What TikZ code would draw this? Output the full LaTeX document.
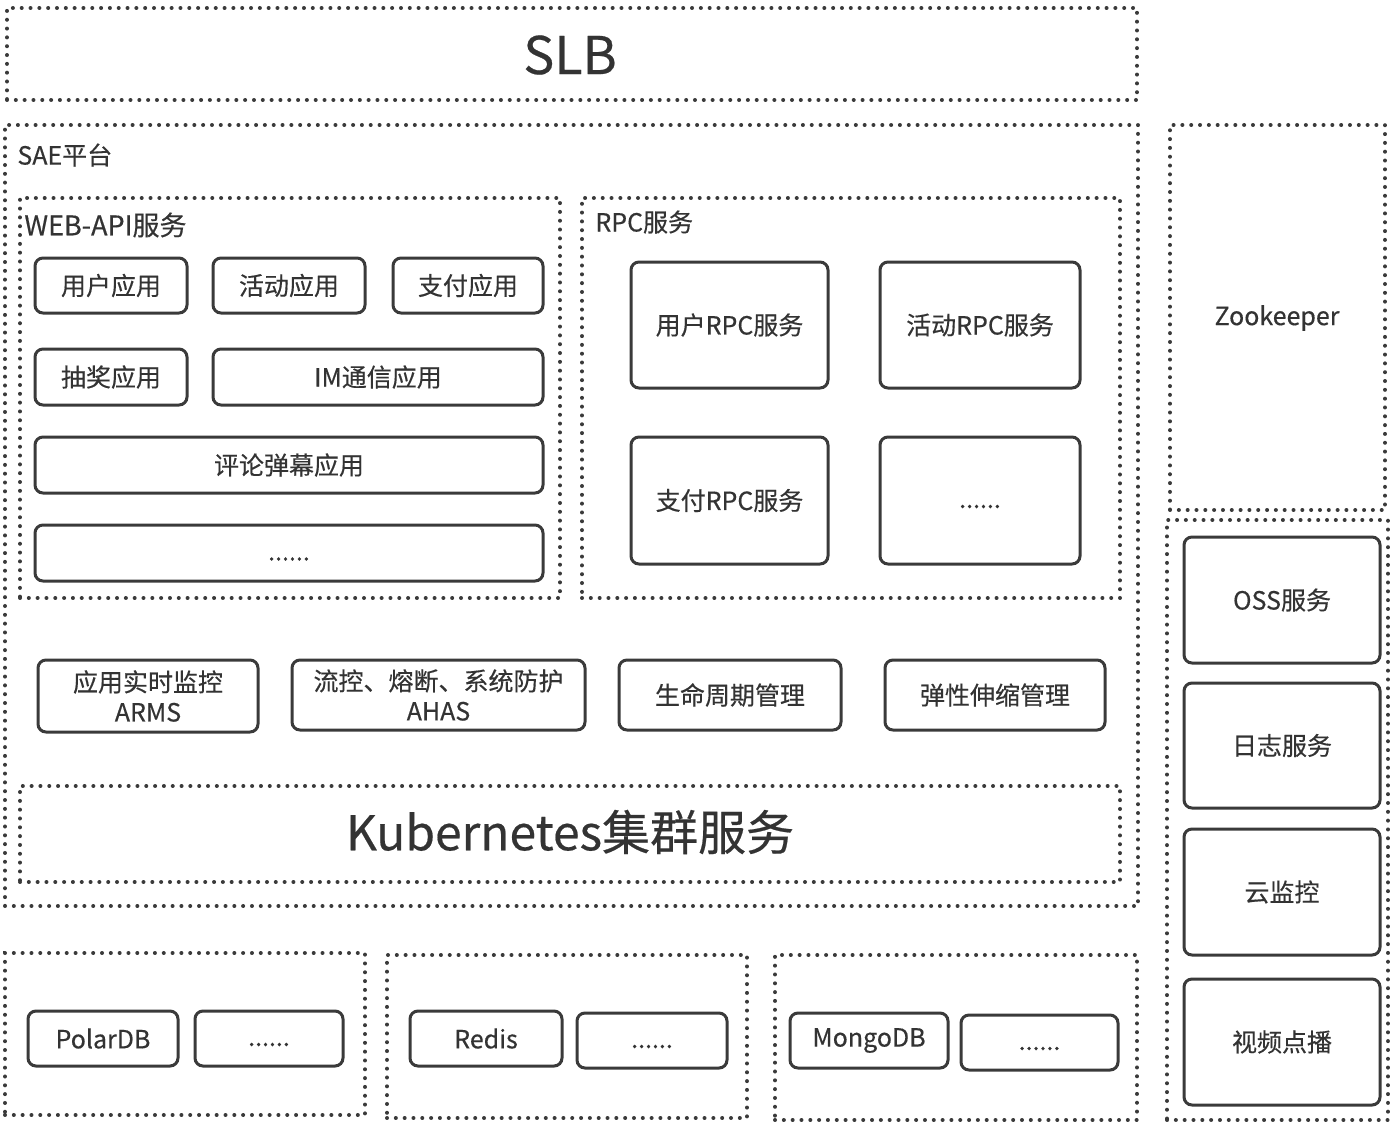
\documentclass[tikz,border=0pt]{standalone}
\usepackage{fontspec}
\setmainfont{Noto Sans CJK SC}[FakeBold=0.4]
\usetikzlibrary{fit}
\definecolor{txt}{HTML}{333333}
\definecolor{ln}{HTML}{3A3A3A}
\tikzset{
  dotbox/.style={draw=ln, line width=2pt, line cap=round, dash pattern=on 0.01pt off 4.4pt, inner sep=0pt},
  box/.style={draw=ln, line width=1.5pt, rounded corners=4pt, inner sep=0pt},
  btxt/.style={text=txt, font=\fontsize{12.5}{15}\selectfont, align=center, inner sep=0pt},
  lbl/.style={text=txt, font=\fontsize{12.5}{15}\selectfont, inner sep=0pt, anchor=west},
  big/.style={text=txt, font=\fontsize{26}{30}\selectfont, inner sep=0pt}
}
\begin{document}
\begin{tikzpicture}[x=0.5pt,y=-0.5pt]
\useasboundingbox (0,0) rectangle (1400,1130);
% SLB
\node[dotbox, fit={(7,8)(1137,100)}] (slb) {};
\node[big] (slbt) at (570,55) {SLB};
% SAE
\node[dotbox, fit={(5,125)(1138,906)}] (sae) {};
\node[lbl] (saet) at (17,155) {SAE平台};
% WEB-API
\node[dotbox, fit={(20,198)(560,598)}] (web) {};
\node[lbl, font=\fontsize{13.5}{15}\selectfont] (webt) at (24,225) {WEB-API服务};
\node[box, fit={(35,258)(187,313)}] (w1) {};
\node[btxt] at (w1.center) {用户应用};
\node[box, fit={(213,258)(365,313)}] (w2) {};
\node[btxt] at (w2.center) {活动应用};
\node[box, fit={(393,258)(543,313)}] (w3) {};
\node[btxt] at (w3.center) {支付应用};
\node[box, fit={(35,349)(187,405)}] (w4) {};
\node[btxt] at (w4.center) {抽奖应用};
\node[box, fit={(213,349)(543,405)}] (w5) {};
\node[btxt] at (w5.center) {IM通信应用};
\node[box, fit={(35,437)(543,493)}] (w6) {};
\node[btxt] at (w6.center) {评论弹幕应用};
\node[box, fit={(35,525)(543,581)}] (w7) {};
\node[btxt] at ([yshift=-3pt]w7.center) {......};
% RPC
\node[dotbox, fit={(582,198)(1120,598)}] (rpc) {};
\node[lbl] (rpct) at (595,222) {RPC服务};
\node[box, fit={(631,262)(828,388)}] (r1) {};
\node[btxt] at (r1.center) {用户RPC服务};
\node[box, fit={(880,262)(1080,388)}] (r2) {};
\node[btxt] at (r2.center) {活动RPC服务};
\node[box, fit={(631,437)(828,564)}] (r3) {};
\node[btxt] at (r3.center) {支付RPC服务};
\node[box, fit={(880,437)(1080,564)}] (r4) {};
\node[btxt] at ([yshift=-3pt]r4.center) {......};
% middle row
\node[box, fit={(38,660)(258,732)}] (m1) {};
\node[btxt] at (m1.center) {应用实时监控\\ARMS};
\node[box, fit={(292,660)(585,730)}] (m2) {};
\node[btxt] at (m2.center) {流控、熔断、系统防护\\AHAS};
\node[box, fit={(619,660)(841,730)}] (m3) {};
\node[btxt] at (m3.center) {生命周期管理};
\node[box, fit={(885,660)(1105,730)}] (m4) {};
\node[btxt] at (m4.center) {弹性伸缩管理};
% Kubernetes
\node[dotbox, fit={(20,786)(1120,882)}] (k8s) {};
\node[big, font=\fontsize{24}{28}\selectfont] (k8st) at (570,832) {Kubernetes集群服务};
% Zookeeper
\node[dotbox, fit={(1170,125)(1385,510)}] (zk) {};
\node[btxt] (zkt) at (1277,318) {Zookeeper};
% right column
\node[dotbox, fit={(1167,520)(1388,1120)}] (rc) {};
\node[box, fit={(1184,537)(1380,663)}] (c1) {};
\node[btxt] at (c1.center) {OSS服务};
\node[box, fit={(1184,683)(1380,808)}] (c2) {};
\node[btxt] at (c2.center) {日志服务};
\node[box, fit={(1184,829)(1380,955)}] (c3) {};
\node[btxt] at (c3.center) {云监控};
\node[box, fit={(1184,979)(1380,1105)}] (c4) {};
\node[btxt] at (c4.center) {视频点播};
% bottom groups
\node[dotbox, fit={(5,953)(365,1115)}] (g1) {};
\node[box, fit={(28,1011)(178,1066)}] (b1) {};
\node[btxt] at (b1.center) {PolarDB};
\node[box, fit={(195,1011)(343,1066)}] (b2) {};
\node[btxt] at ([yshift=-3pt]b2.center) {......};
\node[dotbox, fit={(387,955)(747,1118)}] (g2) {};
\node[box, fit={(410,1011)(562,1066)}] (b3) {};
\node[btxt] at (b3.center) {Redis};
\node[box, fit={(577,1013)(727,1068)}] (b4) {};
\node[btxt] at ([yshift=-3pt]b4.center) {......};
\node[dotbox, fit={(775,955)(1137,1120)}] (g3) {};
\node[box, fit={(790,1013)(948,1068)}] (b5) {};
\node[btxt] at (b5.center) {MongoDB};
\node[box, fit={(961,1015)(1118,1070)}] (b6) {};
\node[btxt] at ([yshift=-3pt]b6.center) {......};
\end{tikzpicture}
\end{document}
